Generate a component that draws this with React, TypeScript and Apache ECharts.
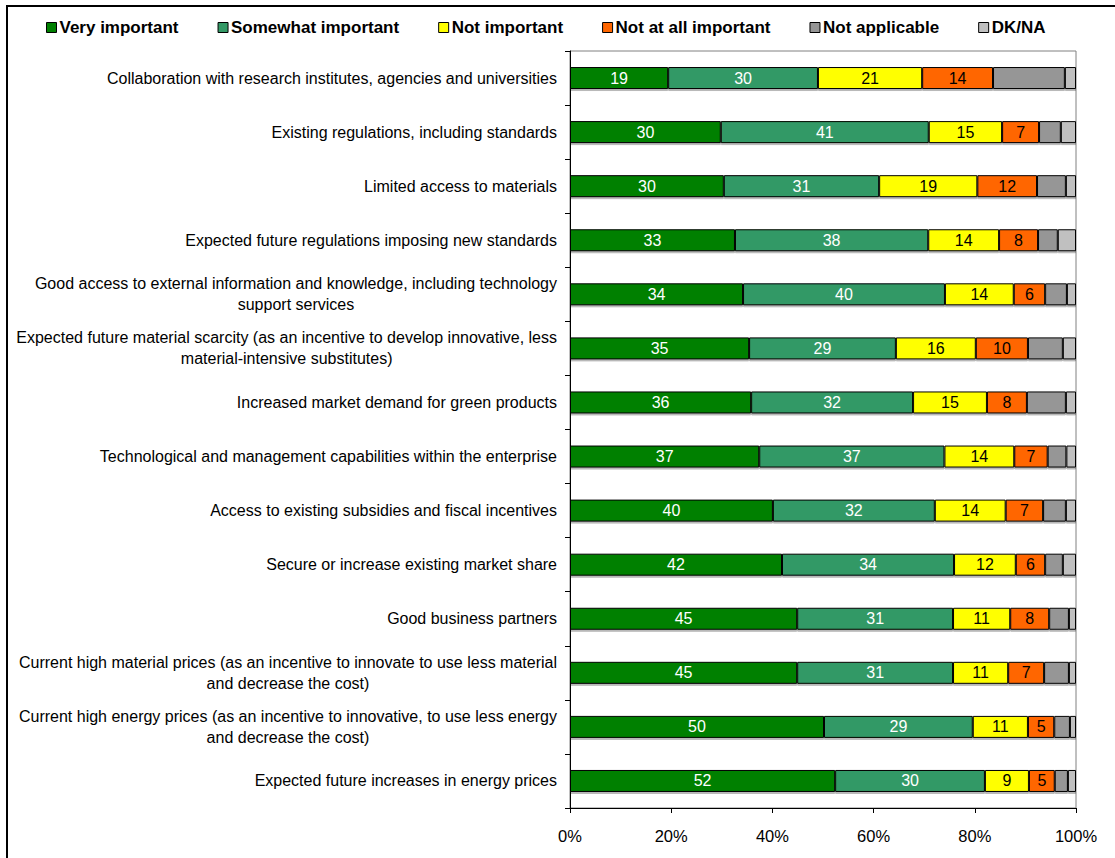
import React, { useEffect, useRef } from "react";
import * as echarts from "echarts";

const categories = [
  "Collaboration with research institutes, agencies and universities",
  "Existing regulations, including standards",
  "Limited access to materials",
  "Expected future regulations imposing new standards",
  "Good access to external information and knowledge, including technology\nsupport services",
  "Expected future material scarcity (as an incentive to develop innovative, less\nmaterial-intensive substitutes)",
  "Increased market demand for green products",
  "Technological and management capabilities within the enterprise",
  "Access to existing subsidies and fiscal incentives",
  "Secure or increase existing market share",
  "Good business partners",
  "Current high material prices (as an incentive to innovate to use less material\nand decrease the cost)",
  "Current high energy prices (as an incentive to innovative, to use less energy\nand decrease the cost)",
  "Expected future increases in energy prices",
];

const veryImportant = [19.4, 29.8, 30.4, 32.6, 34.2, 35.4, 35.8, 37.4, 40.1, 41.9, 44.9, 44.9, 50.2, 52.4];
const somewhatImportant = [29.6, 41.1, 30.7, 38.2, 39.9, 29.0, 32.0, 36.6, 32.0, 34.0, 30.8, 30.8, 29.4, 29.6];
const notImportant = [20.6, 14.5, 19.4, 14.0, 13.6, 15.8, 14.6, 13.8, 14.0, 12.2, 11.3, 10.9, 10.9, 8.7];
const notAtAllImportant = [14.0, 7.3, 11.8, 7.7, 6.2, 10.3, 7.9, 6.6, 7.4, 5.8, 7.7, 7.1, 5.2, 5.1];
const notApplicable = [14.2, 4.3, 5.7, 3.9, 4.3, 6.9, 7.7, 3.7, 4.5, 3.5, 3.9, 4.9, 3.1, 2.6];
const dkNa = [2.2, 3.0, 2.0, 3.6, 1.8, 2.6, 2.0, 1.9, 2.0, 2.6, 1.4, 1.4, 1.2, 1.6];

const seriesNames = [
  "Very important",
  "Somewhat important",
  "Not important",
  "Not at all important",
  "Not applicable",
  "DK/NA",
];
const seriesColors = ["#008000", "#339966", "#FFFF00", "#FF6600", "#969696", "#C0C0C0"];
const labelColors = ["#FFFFFF", "#FFFFFF", "#000000", "#000000", null, null];
const xTicks = [0, 20, 40, 60, 80, 100];

const FONT = '"Liberation Sans", Arial, sans-serif';

export default function App() {
  const ref = useRef<HTMLDivElement>(null);

  useEffect(() => {
    if (!ref.current) return;
    const chart = echarts.init(ref.current, null, { renderer: "svg" });
    const allData = [veryImportant, somewhatImportant, notImportant, notAtAllImportant, notApplicable, dkNa];

    const series = allData.map((d, i) => ({
      name: seriesNames[i],
      type: "bar",
      stack: "total",
      barWidth: 22,
      data: d,
      itemStyle: {
        color: seriesColors[i],
        borderColor: "#000",
        borderWidth: 1,
        shadowColor: "rgba(0,0,0,0.28)",
        shadowOffsetY: 2,
        shadowOffsetX: 0,
        shadowBlur: 1,
      },
      label: labelColors[i]
        ? {
            show: true,
            position: "inside",
            color: labelColors[i],
            fontSize: 16,
            fontFamily: FONT,
            formatter: (p: any) => String(Math.round(p.value)),
          }
        : { show: false },
      emphasis: { disabled: true },
    }));

    chart.setOption({
      animation: false,
      backgroundColor: "#fff",
      textStyle: { fontFamily: FONT },
      legend: {
        top: 14,
        left: 41,
        itemWidth: 10,
        itemHeight: 10,
        itemGap: 39,
        icon: "rect",
        data: seriesNames,
        itemStyle: { borderColor: "#000", borderWidth: 1 },
        textStyle: { fontSize: 17, fontWeight: "bold", color: "#000", fontFamily: FONT, padding: [0, 0, 0, -2] },
        selectedMode: false,
      },
      grid: {
        left: 570,
        right: 39,
        top: 51,
        bottom: 50,
        show: true,
        borderColor: "#808080",
        borderWidth: 1,
        backgroundColor: "transparent",
      },
      xAxis: {
        type: "value",
        min: 0,
        max: 100,
        interval: 20,
        splitLine: { show: false },
        axisLine: { show: true, lineStyle: { color: "#000", width: 1 } },
        axisTick: { show: true, length: 5, lineStyle: { color: "#000" } },
        axisLabel: {
          formatter: (v: number) => (xTicks.includes(v) ? v + "%" : ""),
          fontSize: 16.5,
          color: "#000",
          margin: 19,
          fontFamily: FONT,
        },
      },
      yAxis: {
        type: "category",
        inverse: true,
        data: categories,
        axisLine: { show: true, lineStyle: { color: "#000", width: 1 } },
        axisTick: { show: true, length: 5, alignWithLabel: false, lineStyle: { color: "#000" } },
        axisLabel: {
          margin: 13,
          fontSize: 16,
          color: "#000",
          fontFamily: FONT,
          formatter: (v: string) =>
            v
              .split("\n")
              .map((l) => `{c|${l}}`)
              .join("\n"),
          rich: {
            c: { align: "center", fontSize: 16, lineHeight: 21, color: "#000", fontFamily: FONT },
          },
        },
      },
      graphic: [
        {
          type: "rect",
          shape: { x: 7, y: 6, width: 1130, height: 880 },
          style: { fill: "none", stroke: "#000", lineWidth: 2 },
          silent: true,
        },
      ],
      series,
    });

    return () => chart.dispose();
  }, []);

  return (
    <div
      ref={ref}
      style={{ position: "fixed", left: 0, top: 0, width: 1115, height: 858 }}
    />
  );
}
